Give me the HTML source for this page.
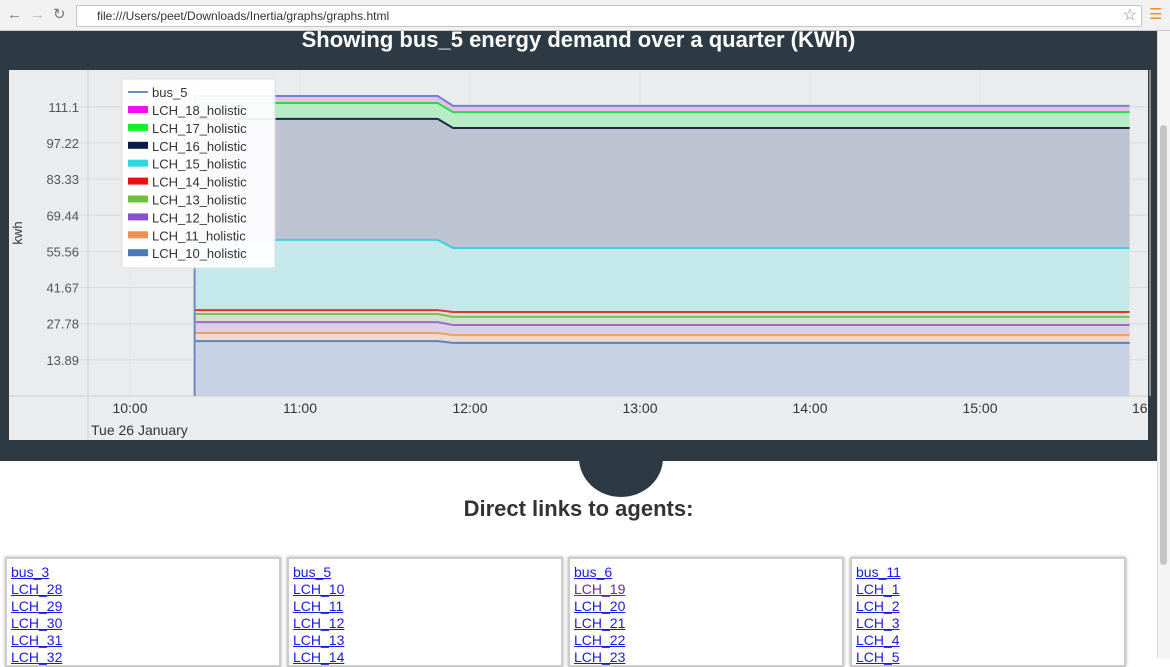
<!DOCTYPE html>
<html><head><meta charset="utf-8"><style>
*{margin:0;padding:0;box-sizing:border-box}
body{width:1170px;height:658px;overflow:hidden;background:#fff;font-family:"Liberation Sans",sans-serif;position:relative}
#toolbar{position:absolute;left:0;top:0;width:1170px;height:31px;background:#f1f1f1;border-bottom:1px solid #c8c8c8}
#url{position:absolute;left:76px;top:5px;width:1066px;height:22px;background:#fff;border:1px solid #c4c4c4;border-radius:2px;font-size:12px;color:#333;padding:3px 0 0 20px}
#dark{position:absolute;left:0;top:31px;width:1157px;height:430px;background:#2e3a43}
#circle{position:absolute;left:579px;top:419px;width:84px;height:78px;border-radius:50%;background:#2e3a43}
#title{position:absolute;left:0;top:27px;width:1157px;text-align:center;color:#fff;font-weight:bold;font-size:22px}
#scroll{position:absolute;left:1157px;top:31px;width:13px;height:627px;background:#f4f4f4;border-left:1px solid #ddd}
#thumb{position:absolute;left:1160px;top:125px;width:7px;height:440px;background:#c4c4c4;border-radius:4px}
#links-title{position:absolute;left:0;top:496px;width:1157px;text-align:center;font-weight:bold;font-size:22px;color:#333}
.box{position:absolute;top:557px;width:276px;height:110px;border:2px solid #ccc;box-shadow:0 0 3px #aaa;padding:5px 0 0 4px;font-size:14px;line-height:17px}
.box a{display:block;color:#1a1ae6;text-decoration:underline}
</style></head><body>
<div id="toolbar">
<span style="position:absolute;left:7px;top:6px;font-size:15px;color:#777">←</span>
<span style="position:absolute;left:30px;top:6px;font-size:15px;color:#bbb">→</span>
<span style="position:absolute;left:53px;top:5px;font-size:15px;color:#777">↻</span>
<div id="url">file:///Users/peet/Downloads/Inertia/graphs/graphs.html<span style="position:absolute;right:4px;top:-1px;font-size:16px;color:#888">☆</span></div>
<span style="position:absolute;left:1149px;top:5px;font-size:15px;color:#e8902a">☰</span>
</div>
<div id="dark"></div>
<div id="circle"></div>
<div id="title">Showing bus_5 energy demand over a quarter (KWh)</div>
<svg id="chart" style="position:absolute;left:0;top:0" width="1157" height="461"></svg>
<div id="links-title">Direct links to agents:</div>
<div class="box" style="left:5px"><a>bus_3</a><a>LCH_28</a><a>LCH_29</a><a>LCH_30</a><a>LCH_31</a><a>LCH_32</a></div>
<div class="box" style="left:287px"><a>bus_5</a><a>LCH_10</a><a>LCH_11</a><a>LCH_12</a><a>LCH_13</a><a>LCH_14</a></div>
<div class="box" style="left:568px"><a>bus_6</a><a style="color:#6a2a8a">LCH_19</a><a>LCH_20</a><a>LCH_21</a><a>LCH_22</a><a>LCH_23</a></div>
<div class="box" style="left:850px"><a>bus_11</a><a>LCH_1</a><a>LCH_2</a><a>LCH_3</a><a>LCH_4</a><a>LCH_5</a></div>
<div id="scroll"></div><div id="thumb"></div>
<script>
const times = [10.38, 11.81, 11.90, 15.88];
const seriesNames = ["LCH_10_holistic","LCH_11_holistic","LCH_12_holistic","LCH_13_holistic","LCH_14_holistic","LCH_15_holistic","LCH_16_holistic","LCH_17_holistic","LCH_18_holistic"];
const lch10 = [21.1, 21.1, 20.4, 20.4];
const lch11 = [3.1, 3.1, 3.0, 3.0];
const lch12 = [4.2, 4.2, 3.9, 3.9];
const lch13 = [3.1, 3.1, 3.1, 3.1];
const lch14 = [1.5, 1.5, 1.9, 1.9];
const lch15 = [27.0, 27.0, 24.6, 24.6];
const lch16 = [46.5, 46.5, 46.1, 46.1];
const lch17 = [6.1, 6.1, 6.1, 6.1];
const lch18 = [2.7, 2.7, 2.4, 2.4];
const yTicks = ["13.89","27.78","41.67","55.56","69.44","83.33","97.22","111.1"];
const xTicks = ["10:00","11:00","12:00","13:00","14:00","15:00","16"];
const xTickHours = [10,11,12,13,14,15,16];

const series=[lch10,lch11,lch12,lch13,lch14,lch15,lch16,lch17,lch18];
const lineCol=["#5b82b8","#f0a060","#9a6ad0","#7ac050","#e83030","#40d0e0","#1a2a4a","#20e040","#e8a0e8"];
const fillCol=["#c7d3e4","#efd9cc","#dccfe6","#d3e2cc","#dfe0d8","#c5e9ea","#bdc3d0","#b8ecc5","#eebbee"];
const legCol=["#4a78b8","#f09050","#8a50d0","#70c040","#f01010","#30d8e0","#0a1a4a","#10f030","#f010f0"];
const svg=document.getElementById('chart');const NS='http://www.w3.org/2000/svg';
function mk(t,a,p){const e=document.createElementNS(NS,t);for(const k in a)e.setAttribute(k,a[k]);(p||svg).appendChild(e);return e;}
const X=h=>130+(h-10)*170;
const Y=v=>396-v*(253/97.23);
let e;
e=mk('rect',{x:9,y:70,width:1139,height:370,fill:'#ebecee'});


for(const h of xTickHours){e=mk('line',{x1:X(h),x2:X(h),y1:70,y2:396,stroke:'#e2e3e6'});}
yTicks.forEach(t=>{const y=Y(parseFloat(t));mk('line',{x1:70,x2:1148,y1:y,y2:y,stroke:'#d6d7da'});
e=mk('text',{x:79,y:y+5,'text-anchor':'end','font-size':13,fill:'#555'});e.textContent=t;

});
mk('line',{x1:88,x2:88,y1:70,y2:440,stroke:'#cfd0d3'});
mk('line',{x1:9,x2:1148,y1:396,y2:396,stroke:'#cfd0d3'});
xTicks.forEach((t,i)=>{const last=i===xTicks.length-1;e=mk('text',{x:last?1132:X(xTickHours[i]),y:413,'text-anchor':last?'start':'middle','font-size':14,fill:'#333'});e.textContent=t;

});
e=mk('text',{x:91,y:435,'font-size':14,fill:'#333'});e.textContent='Tue 26 January';


e=mk('text',{x:22,y:233,'font-size':13,fill:'#333',transform:'rotate(-90 22 233)','text-anchor':'middle'});e.textContent='kwh';


let base=times.map(()=>0);
const tops=[];
series.forEach((s,i)=>{const top=s.map((v,j)=>base[j]+v);
let d='M'+times.map((t,j)=>X(t)+','+Y(top[j])).join(' L');
d+=' L'+times.slice().reverse().map((t,j)=>X(t)+','+Y(base[times.length-1-j])).join(' L')+'Z';
e=mk('path',{d:d,fill:fillCol[i]});


tops.push(top);base=top;});
tops.forEach((top,i)=>{if(i===tops.length-1)return;e=mk('polyline',{points:times.map((t,j)=>X(t)+','+Y(top[j])).join(' '),fill:'none',stroke:lineCol[i],'stroke-width':2});

});
const tot=tops[tops.length-1];
e=mk('polyline',{points:X(times[0])+','+Y(0)+' '+times.map((t,j)=>X(t)+','+Y(tot[j])).join(' '),fill:'none',stroke:'#6a88c8','stroke-width':2});


const lg=mk('g',{});


mk('rect',{x:122,y:79,width:153,height:189,fill:'#fff','fill-opacity':0.92,stroke:'#ddd'},lg);
mk('line',{x1:128,x2:148,y1:92,y2:92,stroke:'#6a90c8','stroke-width':2},lg);
e=mk('text',{x:152,y:97,'font-size':13,fill:'#333'},lg);e.textContent='bus_5';
for(let k=0;k<9;k++){const i=8-k;const y=110+k*17.9;
mk('rect',{x:128,y:y-4,width:20,height:7,fill:legCol[i]},lg);
e=mk('text',{x:152,y:y+5,'font-size':13,fill:'#333'},lg);e.textContent=seriesNames[i];

}
</script>
</body></html>
